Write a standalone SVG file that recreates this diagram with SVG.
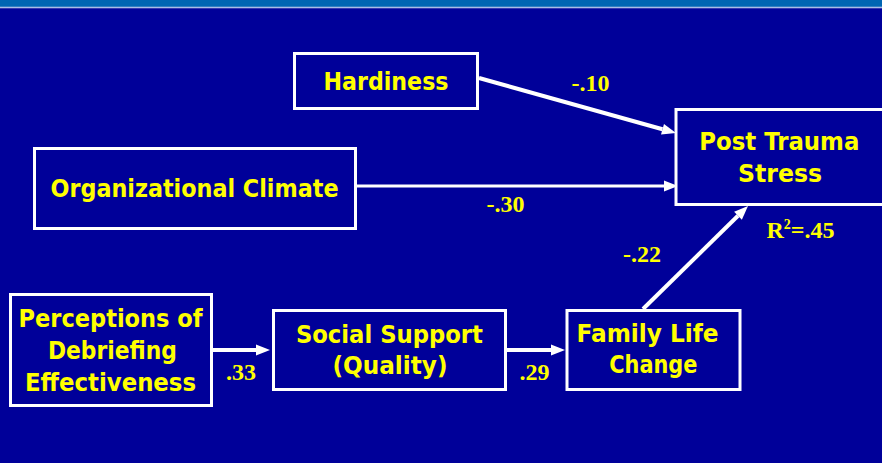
<svg xmlns="http://www.w3.org/2000/svg" width="882" height="463" viewBox="0 0 882 463">
  <style>
    .box { fill: #000099; stroke: #FFFFFF; stroke-width: 3; }
    .nt { font-family: "DejaVu Sans", "Liberation Sans", sans-serif; font-weight: bold; font-size: 25px; fill: #FFFF00; text-anchor: middle; }
    .lbl { font-family: "Liberation Serif", "Times New Roman", serif; font-weight: bold; font-size: 24px; fill: #FFFF00; }
    .conn { stroke: #FFFFFF; stroke-width: 4; fill: none; marker-end: url(#ah); }
  </style>
  <defs>
    <marker id="ah" markerUnits="userSpaceOnUse" markerWidth="14" markerHeight="11" refX="0" refY="5.5" orient="auto" overflow="visible">
      <path d="M0,0 L14,5.5 L0,11 Z" fill="#FFFFFF"/>
    </marker>
  </defs>

  <rect x="0" y="0" width="882" height="463" fill="#000099"/>
  <rect x="0" y="0" width="882" height="7" fill="#0066B3"/>
  <rect x="0" y="6.7" width="882" height="1.6" fill="#A8BDE6"/>

  <g id="connectors">
    <line class="conn" x1="479" y1="78" x2="662.5" y2="129.2"/>
    <line class="conn" x1="357" y1="186" x2="664" y2="186" style="stroke-width:3"/>
    <line class="conn" x1="643" y1="309" x2="738" y2="215.8"/>
    <line class="conn" x1="211" y1="350" x2="256" y2="350"/>
    <line class="conn" x1="506" y1="350" x2="551" y2="350"/>
    <text class="lbl" x="571.5" y="91">-.10</text>
    <text class="lbl" x="486.5" y="212">-.30</text>
    <text class="lbl" x="623" y="262">-.22</text>
    <text class="lbl" x="226" y="380">.33</text>
    <text class="lbl" x="519.5" y="380">.29</text>
    <text class="lbl" x="766.5" y="238">R<tspan font-size="14" dy="-9">2</tspan><tspan dy="9">=.45</tspan></text>
  </g>

  <g id="hardiness">
    <rect class="box" x="294.5" y="53.5" width="183" height="55"/>
    <text class="nt" x="386" y="90" textLength="125" lengthAdjust="spacingAndGlyphs">Hardiness</text>
  </g>

  <g id="organizational-climate">
    <rect class="box" x="34.5" y="148.5" width="321" height="80"/>
    <text class="nt" x="194.5" y="197" textLength="288" lengthAdjust="spacingAndGlyphs">Organizational Climate</text>
  </g>

  <g id="post-trauma-stress">
    <rect class="box" x="676" y="109.5" width="230" height="95"/>
    <text class="nt" x="779.3" y="150" textLength="160" lengthAdjust="spacingAndGlyphs">Post Trauma</text>
    <text class="nt" x="780" y="182" textLength="84" lengthAdjust="spacingAndGlyphs">Stress</text>
  </g>

  <g id="perceptions">
    <rect class="box" x="10.5" y="294.5" width="201" height="111"/>
    <text class="nt" x="110.6" y="327" textLength="184" lengthAdjust="spacingAndGlyphs">Perceptions of</text>
    <text class="nt" x="112.4" y="359" textLength="129" lengthAdjust="spacingAndGlyphs">Debriefing</text>
    <text class="nt" x="110.5" y="391" textLength="171" lengthAdjust="spacingAndGlyphs">Effectiveness</text>
  </g>

  <g id="social-support">
    <rect class="box" x="273.5" y="310.5" width="232" height="79"/>
    <text class="nt" x="389.4" y="343" textLength="187" lengthAdjust="spacingAndGlyphs">Social Support</text>
    <text class="nt" x="390" y="374" textLength="115" lengthAdjust="spacingAndGlyphs">(Quality)</text>
  </g>

  <g id="family-life-change">
    <rect class="box" x="567" y="310.5" width="173" height="79"/>
    <text class="nt" x="647.5" y="342" textLength="142" lengthAdjust="spacingAndGlyphs">Family Life</text>
    <text class="nt" x="653.3" y="373" textLength="88" lengthAdjust="spacingAndGlyphs">Change</text>
  </g>
</svg>
